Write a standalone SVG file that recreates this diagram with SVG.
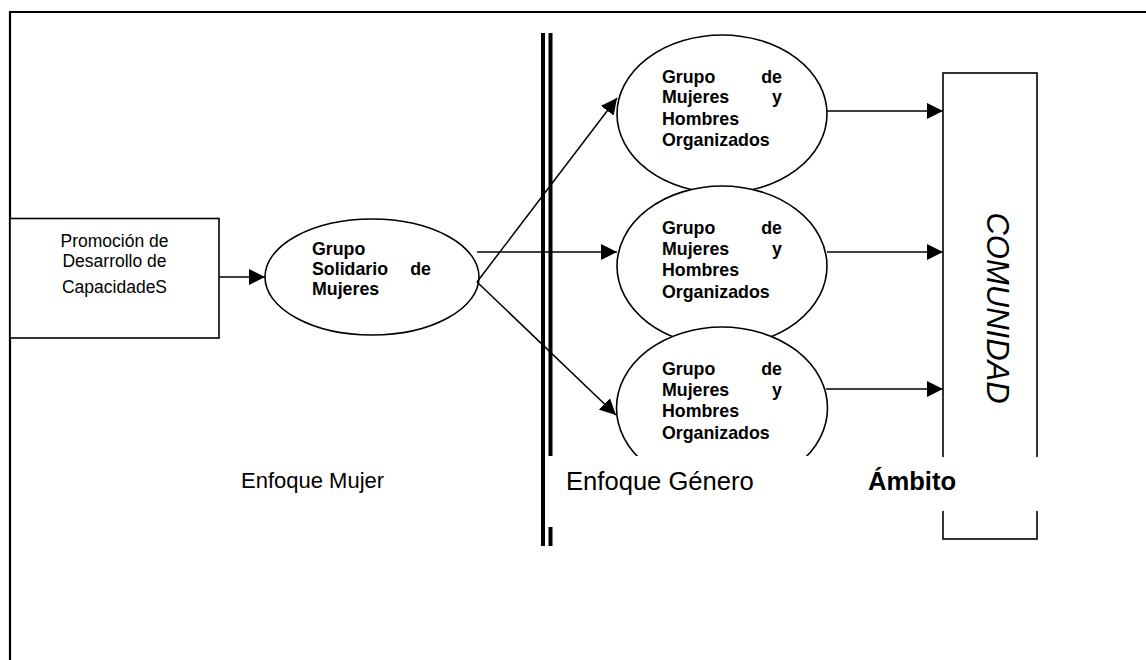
<svg xmlns="http://www.w3.org/2000/svg" width="1146" height="660" viewBox="0 0 1146 660">
<style>
.ln{stroke:#000;stroke-width:1.5;fill:none}
.shape{stroke:#000;stroke-width:1.6;fill:#fff}
.b{font-family:"Liberation Sans",Arial,sans-serif;font-weight:bold;font-size:17.8px;fill:#000}
.r{font-family:"Liberation Sans",Arial,sans-serif;font-size:17.5px;fill:#000}
.lab{font-family:"Liberation Sans",Arial,sans-serif;font-size:25.6px;fill:#000}
</style>
<defs>
<marker id="ah" viewBox="0 0 16 16" refX="16" refY="8" markerWidth="16" markerHeight="16" markerUnits="userSpaceOnUse" orient="auto">
<path d="M0,0 L16,8 L0,16 Z" fill="#000"/>
</marker>
</defs>
<rect width="1146" height="660" fill="#fff"/>
<g id="frame">
<path d="M10,660 V12 H1146" stroke="#000" stroke-width="2.2" fill="none"/>
</g>
<g id="promocion">
<rect class="shape" x="10" y="218.5" width="209" height="119.5"/>
<text class="r" x="114.5" y="246.5" text-anchor="middle">Promoción de</text>
<text class="r" x="114.5" y="266.5" text-anchor="middle">Desarrollo de</text>
<text class="r" x="114.5" y="293" text-anchor="middle">CapacidadeS</text>
</g>
<g id="grupo-solidario">
<ellipse class="shape" cx="372" cy="277" rx="107" ry="58"/>
<text class="b" x="312" y="255">Grupo</text>
<text class="b" x="312" y="275">Solidario</text>
<text class="b" x="431" y="275" text-anchor="end">de</text>
<text class="b" x="312" y="295">Mujeres</text>
</g>
<g id="grupo-mh-1">
<ellipse class="shape" cx="722" cy="114" rx="105" ry="79"/>
<text class="b" x="662" y="83">Grupo</text>
<text class="b" x="782" y="83" text-anchor="end">de</text>
<text class="b" x="662" y="103">Mujeres</text>
<text class="b" x="782" y="103" text-anchor="end">y</text>
<text class="b" x="662" y="125">Hombres</text>
<text class="b" x="662" y="146">Organizados</text>
</g>
<g id="grupo-mh-2">
<ellipse class="shape" cx="722" cy="266" rx="105" ry="80"/>
<text class="b" x="662" y="234">Grupo</text>
<text class="b" x="782" y="234" text-anchor="end">de</text>
<text class="b" x="662" y="255">Mujeres</text>
<text class="b" x="782" y="255" text-anchor="end">y</text>
<text class="b" x="662" y="276">Hombres</text>
<text class="b" x="662" y="298">Organizados</text>
</g>
<g id="grupo-mh-3">
<ellipse class="shape" cx="722" cy="408" rx="105.5" ry="81"/>
<text class="b" x="662" y="375">Grupo</text>
<text class="b" x="782" y="375" text-anchor="end">de</text>
<text class="b" x="662" y="396">Mujeres</text>
<text class="b" x="782" y="396" text-anchor="end">y</text>
<text class="b" x="662" y="417">Hombres</text>
<text class="b" x="662" y="439">Organizados</text>
</g>
<g id="comunidad">
<rect class="shape" x="943" y="73" width="94" height="466"/>
<text transform="translate(987,308) rotate(90)" text-anchor="middle" font-family="'Liberation Sans',Arial,sans-serif" font-style="italic" font-size="31" fill="#000">COMUNIDAD</text>
</g>
<g id="divisor">
<line x1="543" y1="33" x2="543" y2="546" stroke="#000" stroke-width="4"/>
<line x1="550.5" y1="33" x2="550.5" y2="546" stroke="#000" stroke-width="4"/>
</g>
<g id="connectors">
<line class="ln" x1="219" y1="277" x2="265" y2="277" marker-end="url(#ah)"/>
<line class="ln" x1="477" y1="252" x2="617" y2="252" marker-end="url(#ah)"/>
<line class="ln" x1="477" y1="282" x2="617" y2="98" marker-end="url(#ah)"/>
<line class="ln" x1="477" y1="282" x2="616" y2="415" marker-end="url(#ah)"/>
<line class="ln" x1="827" y1="111" x2="943" y2="111" marker-end="url(#ah)"/>
<line class="ln" x1="827" y1="252" x2="943" y2="252" marker-end="url(#ah)"/>
<line class="ln" x1="826" y1="389" x2="943" y2="389" marker-end="url(#ah)"/>
</g>
<g id="label-enfoque-mujer">
<text class="lab" x="241" y="488" style="font-size:22px">Enfoque Mujer</text>
</g>
<g id="label-enfoque-genero">
<rect x="548" y="456" width="300" height="71" fill="#fff"/>
<text class="lab" x="566" y="490">Enfoque Género</text>
</g>
<g id="label-ambito">
<rect x="848" y="457" width="200" height="54" fill="#fff"/>
<text class="lab" x="868" y="490" font-weight="bold">Ámbito</text>
</g>
</svg>
